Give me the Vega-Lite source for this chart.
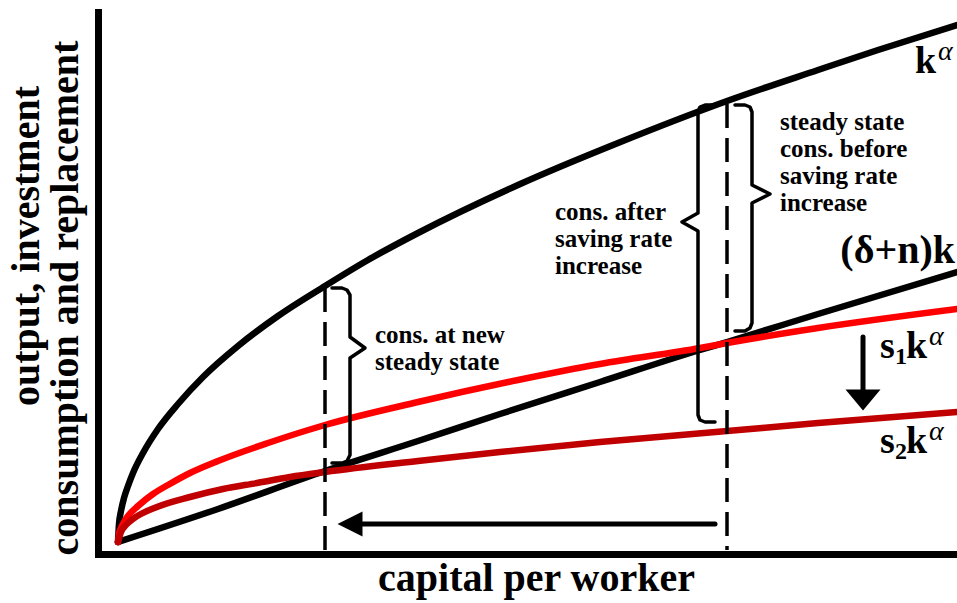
{
  "$schema": "https://vega.github.io/schema/vega-lite/v6.json",
  "width": 859,
  "height": 542,
  "autosize": {"type": "none"},
  "padding": {"left": 98, "top": 12, "right": 0, "bottom": 49},
  "background": "white",
  "config": {"view": {"stroke": null}, "font": "Liberation Serif"},
  "encoding": {
    "x": {
      "field": "x", "type": "quantitative",
      "scale": {"domain": [-20, 839], "nice": false, "zero": false},
      "axis": {
        "domainColor": "black", "domainWidth": 7, "domainCap": "square",
        "ticks": false, "labels": false, "grid": false,
        "title": "capital per worker", "titleFont": "Liberation Serif", "titleFontSize": 40,
        "titleFontWeight": "bold", "titleColor": "black", "titleX": 438, "titleY": 36,
        "titleBaseline": "alphabetic", "titleAlign": "center"
      }
    },
    "y": {
      "field": "y", "type": "quantitative",
      "scale": {"domain": [-12, 530], "nice": false, "zero": false},
      "axis": {
        "domainColor": "black", "domainWidth": 7, "domainCap": "square",
        "ticks": false, "labels": false, "grid": false, "title": null
      }
    }
  },
  "layer": [
    {
      "data": {"values": [
        {"s": "k", "x": 0, "y": 0}, {"s": "k", "x": 1, "y": 18}, {"s": "k", "x": 3, "y": 31}, {"s": "k", "x": 6, "y": 44},
        {"s": "k", "x": 10, "y": 56}, {"s": "k", "x": 15, "y": 69}, {"s": "k", "x": 25, "y": 89}, {"s": "k", "x": 40, "y": 113},
        {"s": "k", "x": 60, "y": 138}, {"s": "k", "x": 85, "y": 165}, {"s": "k", "x": 120, "y": 196}, {"s": "k", "x": 160, "y": 226},
        {"s": "k", "x": 207, "y": 256}, {"s": "k", "x": 250, "y": 282}, {"s": "k", "x": 300, "y": 309}, {"s": "k", "x": 400, "y": 357},
        {"s": "k", "x": 500, "y": 399}, {"s": "k", "x": 609, "y": 441}, {"s": "k", "x": 700, "y": 472}, {"s": "k", "x": 760, "y": 492},
        {"s": "k", "x": 839, "y": 517},
        {"s": "dn", "x": 0, "y": 0}, {"s": "dn", "x": 100, "y": 33}, {"s": "dn", "x": 207, "y": 71}, {"s": "dn", "x": 300, "y": 101},
        {"s": "dn", "x": 382, "y": 128}, {"s": "dn", "x": 482, "y": 160}, {"s": "dn", "x": 582, "y": 192}, {"s": "dn", "x": 609, "y": 200},
        {"s": "dn", "x": 700, "y": 228}, {"s": "dn", "x": 839, "y": 270},
        {"s": "s1", "x": 0, "y": 0}, {"s": "s1", "x": 1, "y": 8}, {"s": "s1", "x": 3, "y": 14}, {"s": "s1", "x": 6, "y": 20},
        {"s": "s1", "x": 10, "y": 26}, {"s": "s1", "x": 20, "y": 36}, {"s": "s1", "x": 35, "y": 48}, {"s": "s1", "x": 50, "y": 57},
        {"s": "s1", "x": 72, "y": 69}, {"s": "s1", "x": 100, "y": 81}, {"s": "s1", "x": 150, "y": 99}, {"s": "s1", "x": 207, "y": 117},
        {"s": "s1", "x": 300, "y": 140}, {"s": "s1", "x": 400, "y": 162}, {"s": "s1", "x": 482, "y": 178}, {"s": "s1", "x": 582, "y": 194},
        {"s": "s1", "x": 609, "y": 199}, {"s": "s1", "x": 700, "y": 214}, {"s": "s1", "x": 839, "y": 233},
        {"s": "s2", "x": 0, "y": 0}, {"s": "s2", "x": 3, "y": 10}, {"s": "s2", "x": 8, "y": 17}, {"s": "s2", "x": 15, "y": 23},
        {"s": "s2", "x": 39, "y": 35}, {"s": "s2", "x": 72, "y": 45}, {"s": "s2", "x": 105, "y": 53}, {"s": "s2", "x": 139, "y": 59},
        {"s": "s2", "x": 172, "y": 65}, {"s": "s2", "x": 207, "y": 70}, {"s": "s2", "x": 300, "y": 81}, {"s": "s2", "x": 382, "y": 90},
        {"s": "s2", "x": 482, "y": 100}, {"s": "s2", "x": 609, "y": 111}, {"s": "s2", "x": 700, "y": 119}, {"s": "s2", "x": 839, "y": 130}
      ]},
      "mark": {"type": "line", "strokeWidth": 6.5, "strokeCap": "round", "strokeJoin": "round", "interpolate": "monotone"},
      "encoding": {
        "color": {"field": "s", "type": "nominal",
          "scale": {"domain": ["k", "dn", "s1", "s2"], "range": ["#000000", "#000000", "#ff0000", "#c00000"]},
          "legend": null}
      }
    },
    {
      "data": {"values": [{"x": 207, "y": 254, "y2": -8}, {"x": 609, "y": 438, "y2": -8}]},
      "mark": {"type": "rule", "strokeDash": [24, 10], "strokeWidth": 3.5, "color": "black"},
      "encoding": {"y2": {"field": "y2"}}
    },
    {
      "data": {"values": [
        {"b": "b1", "i": 0, "x": 214, "y": 254}, {"b": "b1", "i": 1, "x": 224, "y": 254}, {"b": "b1", "i": 2, "x": 229, "y": 252},
        {"b": "b1", "i": 3, "x": 232, "y": 247}, {"b": "b1", "i": 4, "x": 232, "y": 205}, {"b": "b1", "i": 5, "x": 247, "y": 194},
        {"b": "b1", "i": 6, "x": 232, "y": 184}, {"b": "b1", "i": 7, "x": 232, "y": 87}, {"b": "b1", "i": 8, "x": 229, "y": 81},
        {"b": "b1", "i": 9, "x": 224, "y": 79}, {"b": "b1", "i": 10, "x": 214, "y": 79},
        {"b": "b2", "i": 0, "x": 617, "y": 437}, {"b": "b2", "i": 1, "x": 627, "y": 437}, {"b": "b2", "i": 2, "x": 632, "y": 435},
        {"b": "b2", "i": 3, "x": 634, "y": 430}, {"b": "b2", "i": 4, "x": 634, "y": 357}, {"b": "b2", "i": 5, "x": 652, "y": 348},
        {"b": "b2", "i": 6, "x": 634, "y": 339}, {"b": "b2", "i": 7, "x": 634, "y": 219}, {"b": "b2", "i": 8, "x": 632, "y": 214},
        {"b": "b2", "i": 9, "x": 627, "y": 211}, {"b": "b2", "i": 10, "x": 617, "y": 211},
        {"b": "b3", "i": 0, "x": 597, "y": 437}, {"b": "b3", "i": 1, "x": 587, "y": 437}, {"b": "b3", "i": 2, "x": 582, "y": 435},
        {"b": "b3", "i": 3, "x": 580, "y": 430}, {"b": "b3", "i": 4, "x": 580, "y": 329}, {"b": "b3", "i": 5, "x": 564, "y": 320},
        {"b": "b3", "i": 6, "x": 580, "y": 311}, {"b": "b3", "i": 7, "x": 580, "y": 127}, {"b": "b3", "i": 8, "x": 582, "y": 122},
        {"b": "b3", "i": 9, "x": 587, "y": 120}, {"b": "b3", "i": 10, "x": 597, "y": 120}
      ]},
      "mark": {"type": "line", "strokeWidth": 3.5, "color": "black", "strokeJoin": "round", "strokeCap": "round"},
      "encoding": {"detail": {"field": "b", "type": "nominal"}, "order": {"field": "i", "type": "quantitative"}}
    },
    {
      "data": {"values": [{"x": 597, "y": 18, "x2": 244, "y2": 18}, {"x": 745, "y": 205, "x2": 745, "y2": 150}]},
      "mark": {"type": "rule", "strokeWidth": 5, "strokeCap": "round", "color": "black"},
      "encoding": {"x2": {"field": "x2"}, "y2": {"field": "y2"}}
    },
    {
      "data": {"values": [{"x": 232, "y": 18}]},
      "mark": {"type": "point", "shape": "M-1,0L1,-1L1,1Z", "size": 625, "filled": true, "opacity": 1, "color": "black", "strokeWidth": 0}
    },
    {
      "data": {"values": [{"x": 745, "y": 142}]},
      "mark": {"type": "point", "shape": "M-1,-0.6L1,-0.6L0,0.6Z", "size": 1225, "filled": true, "opacity": 1, "color": "black", "strokeWidth": 0}
    },
    {
      "data": {"values": [
        {"x": -79, "y": 296, "t": "output, investment"},
        {"x": -40, "y": 244, "t": "consumption and replacement"}
      ]},
      "mark": {"type": "text", "align": "center", "baseline": "alphabetic", "angle": 270, "font": "Liberation Serif", "fontSize": 40, "fontWeight": "bold", "color": "black"},
      "encoding": {"text": {"field": "t"}}
    },
    {
      "data": {"values": [
        {"x": 257, "y": 199, "t": "cons. at new\nsteady state"},
        {"x": 437, "y": 322, "t": "cons. after\nsaving rate\nincrease"},
        {"x": 662, "y": 412, "t": "steady state\ncons. before\nsaving rate\nincrease"}
      ]},
      "mark": {"type": "text", "align": "left", "baseline": "alphabetic", "font": "Liberation Serif", "fontSize": 25, "fontWeight": "bold", "lineBreak": "\n", "lineHeight": 27, "color": "black"},
      "encoding": {"text": {"field": "t"}}
    },
    {
      "data": {"values": [
        {"x": 797, "y": 469, "t": "k"},
        {"x": 762, "y": 184, "t": "s"}, {"x": 788, "y": 184, "t": "k"},
        {"x": 762, "y": 89, "t": "s"}, {"x": 788, "y": 89, "t": "k"}
      ]},
      "mark": {"type": "text", "align": "left", "baseline": "alphabetic", "font": "Liberation Serif", "fontSize": 38, "fontWeight": "bold", "color": "black"},
      "encoding": {"text": {"field": "t"}}
    },
    {
      "data": {"values": [{"x": 837, "y": 279, "t": "(δ+n)k"}]},
      "mark": {"type": "text", "align": "right", "baseline": "alphabetic", "font": "Liberation Serif", "fontSize": 40, "fontWeight": "bold", "color": "black"},
      "encoding": {"text": {"field": "t"}}
    },
    {
      "data": {"values": [{"x": 777, "y": 178, "t": "1"}, {"x": 777, "y": 83, "t": "2"}]},
      "mark": {"type": "text", "align": "left", "baseline": "alphabetic", "font": "Liberation Serif", "fontSize": 24, "fontWeight": "bold", "color": "black"},
      "encoding": {"text": {"field": "t"}}
    },
    {
      "data": {"values": [{"x": 820, "y": 482, "t": "α"}, {"x": 811, "y": 197, "t": "α"}, {"x": 811, "y": 102, "t": "α"}]},
      "mark": {"type": "text", "align": "left", "baseline": "alphabetic", "font": "Liberation Serif", "fontSize": 28, "fontStyle": "italic", "fontWeight": "normal", "color": "black"},
      "encoding": {"text": {"field": "t"}}
    }
  ]
}
